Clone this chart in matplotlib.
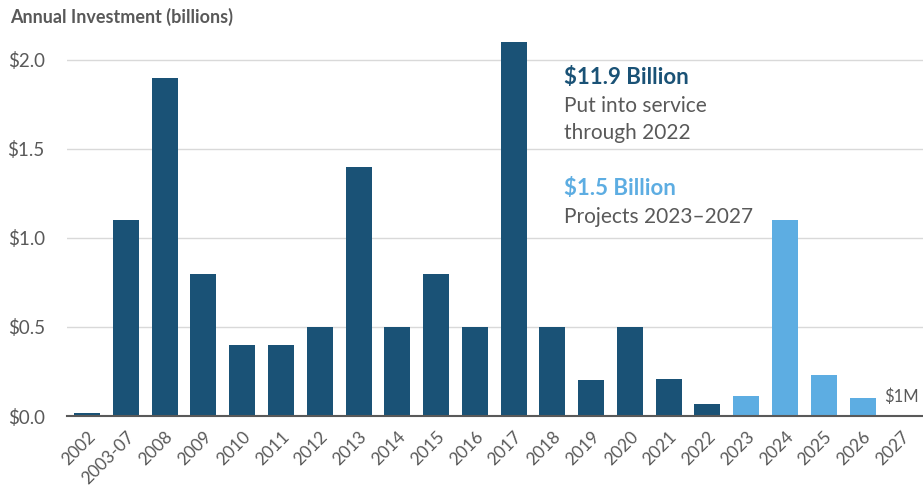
import numpy as np
import matplotlib.pyplot as plt

plt.rcParams['font.family'] = ['Lato', 'DejaVu Sans']

years = ["2002", "2003-07", "2008", "2009", "2010", "2011", "2012", "2013",
         "2014", "2015", "2016", "2017", "2018", "2019", "2020", "2021",
         "2022", "2023", "2024", "2025", "2026", "2027"]
invest = [0.015, 1.1, 1.9, 0.8, 0.4, 0.4, 0.5, 1.4, 0.5, 0.8, 0.5, 2.1,
          0.5, 0.2, 0.5, 0.21, 0.07, 0.11, 1.1, 0.23, 0.1, 0.001]
first_projected = "2023"
yticks = [0.0, 0.5, 1.0, 1.5, 2.0]

dark = "#1A5276"
light = "#5DADE2"
gray = "#595959"

x = np.arange(len(years))
split = years.index(first_projected)
colors = [dark if i < split else light for i in range(len(years))]

fig = plt.figure(figsize=(9.23, 4.91), dpi=100)
ax = fig.add_axes([0.0726, 0.1527, 0.927, 0.780])

ax.bar(x, invest, width=0.67, color=colors, zorder=3)

ax.set_xlim(-0.52, 21.55)
ax.set_ylim(0, 2.15)
ax.set_yticks(yticks)
ax.set_yticklabels([f"${v:.1f}" for v in yticks], fontsize=13.5, color=gray)
ax.set_xticks(x)
ax.set_xticklabels(years, rotation=45, ha='right', rotation_mode='anchor',
                   fontsize=12.5, color=gray)
ax.tick_params(axis='y', length=0, pad=16)
ax.tick_params(axis='x', length=0, pad=9)
ax.grid(axis='y', color='#D9D9D9', linewidth=1, zorder=0)
for s in ['top', 'right', 'left']:
    ax.spines[s].set_visible(False)
ax.spines['bottom'].set_color(gray)
ax.spines['bottom'].set_linewidth(1.5)
ax.spines['bottom'].set_zorder(4)

fig.text(0.011, 0.965, "Annual Investment (billions)", fontsize=13,
         fontweight='bold', color=gray, va='center')

ax.text(12.3, 1.90, "$11.9 Billion", fontsize=16, fontweight='bold',
        color=dark, va='center')
ax.text(12.3, 1.74, "Put into service", fontsize=15, color=gray, va='center')
ax.text(12.3, 1.59, "through 2022", fontsize=15, color=gray, va='center')
ax.text(12.3, 1.28, "$1.5 Billion", fontsize=16, fontweight='bold',
        color=light, va='center')
ax.text(12.3, 1.12, "Projects 2023\u20132027", fontsize=15, color=gray,
        va='center')
ax.text(x[-1], 0.107, "$1M", fontsize=12, color=gray, ha='center',
        va='center')

fig.savefig("out.png", dpi=100)
